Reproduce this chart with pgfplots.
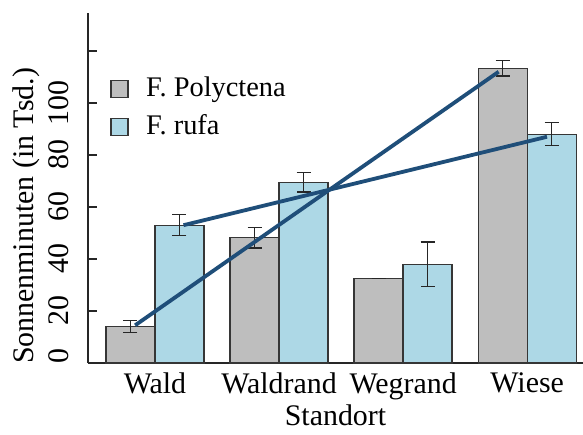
\documentclass[border=0pt]{standalone}
\usepackage{fontspec}
\setmainfont{Liberation Serif}
\newfontfamily\tnr{Liberation Serif}
\usepackage{pgfplots}
\pgfplotsset{compat=1.18}
\definecolor{barGray}{HTML}{BEBEBE}
\definecolor{barBlue}{HTML}{ADD8E6}
\definecolor{lineBlue}{HTML}{1F4E79}
\definecolor{edge}{HTML}{363636}
\begin{document}
\tnr\fontsize{30}{36}\selectfont
\begin{tikzpicture}[font=\tnr\fontsize{30}{36}\selectfont]
\begin{axis}[
  scale only axis, width=495bp, height=350bp,
  xmin=-0.54, xmax=3.45, ymin=0, ymax=134.6,
  axis x line*=bottom, axis y line*=left,
  axis line style={line width=1.6bp, draw=black!85},
  xtick={0,1,2,3},
  xticklabels={Wald, Waldrand, Wegrand, Wiese},
  major x tick style={draw=none},
  xticklabel style={anchor=north, font=\tnr\fontsize{30}{36}\selectfont},
  ytick={0,20,40,60,80,100,120},
  yticklabels={{\hspace*{14bp}0},20,40,60,80,100,{}},
  tick align=inside,
  major tick length=9bp,
  major y tick style={line width=1.4bp, draw=black!85},
  yticklabel style={xshift=-9bp, rotate=90, anchor=south, font=\tnr\fontsize{30}{36}\selectfont},
  xlabel={Standort},
  xlabel style={yshift=16bp, font=\tnr\fontsize{30}{36}\selectfont},
  ylabel={Sonnenminuten (in Tsd.)},
  every axis y label/.style={at={(axis description cs:-0.125,0.42)}, rotate=90, anchor=center, font=\tnr\fontsize{30}{36}\selectfont},
  legend style={at={(axis description cs:0.045,0.824)}, anchor=north west, draw=none, fill=none,
    row sep=10bp, font=\tnr\fontsize{28.5}{34}\selectfont, inner sep=0pt},
  legend cell align=left,
  legend image code/.code={\draw[#1, line width=1.3bp] (0bp,-8.5bp) rectangle (17bp,8.5bp);
    \path[draw=none, fill=none] (0bp,0bp) -- (33bp,0bp);},
  error bars/error bar style={line width=1.4bp, black!85},
  error bars/error mark options={rotate=90, mark size=7bp, line width=1.4bp, black!85},
]
\coordinate (O) at (rel axis cs:0,0);
\addplot[ybar, bar width=0.395, bar shift=0pt, fill=barGray, draw=edge, line width=1.3bp,
  error bars/.cd, y dir=both, y explicit]
  coordinates {(-0.1975,14) +- (0,2.3) (0.8025,48.2) +- (0,4) (1.8025,32.6) +- (0,0) (2.8025,113.3) +- (0,3)};
\addlegendentry{F. Polyctena}
\addplot[ybar, bar width=0.395, bar shift=0pt, fill=barBlue, draw=edge, line width=1.3bp,
  error bars/.cd, y dir=both, y explicit]
  coordinates {(0.1975,53) +- (0,4) (1.1975,69.5) +- (0,3.7) (2.1975,38) +- (0,8.5) (3.1975,88) +- (0,4.4)};
\addlegendentry{F. rufa}
\addplot[sharp plot, no marks, draw=lineBlue, line width=3.8bp, forget plot]
  coordinates {(-0.16,14.5) (2.77,112)};
\addplot[sharp plot, no marks, draw=lineBlue, line width=3.8bp, forget plot]
  coordinates {(0.23,53) (3.16,87)};
\end{axis}
\pgfresetboundingbox
\path[use as bounding box] (O) ++(-88bp,-72bp) rectangle ++(583bp,435bp);
\end{tikzpicture}
\end{document}
